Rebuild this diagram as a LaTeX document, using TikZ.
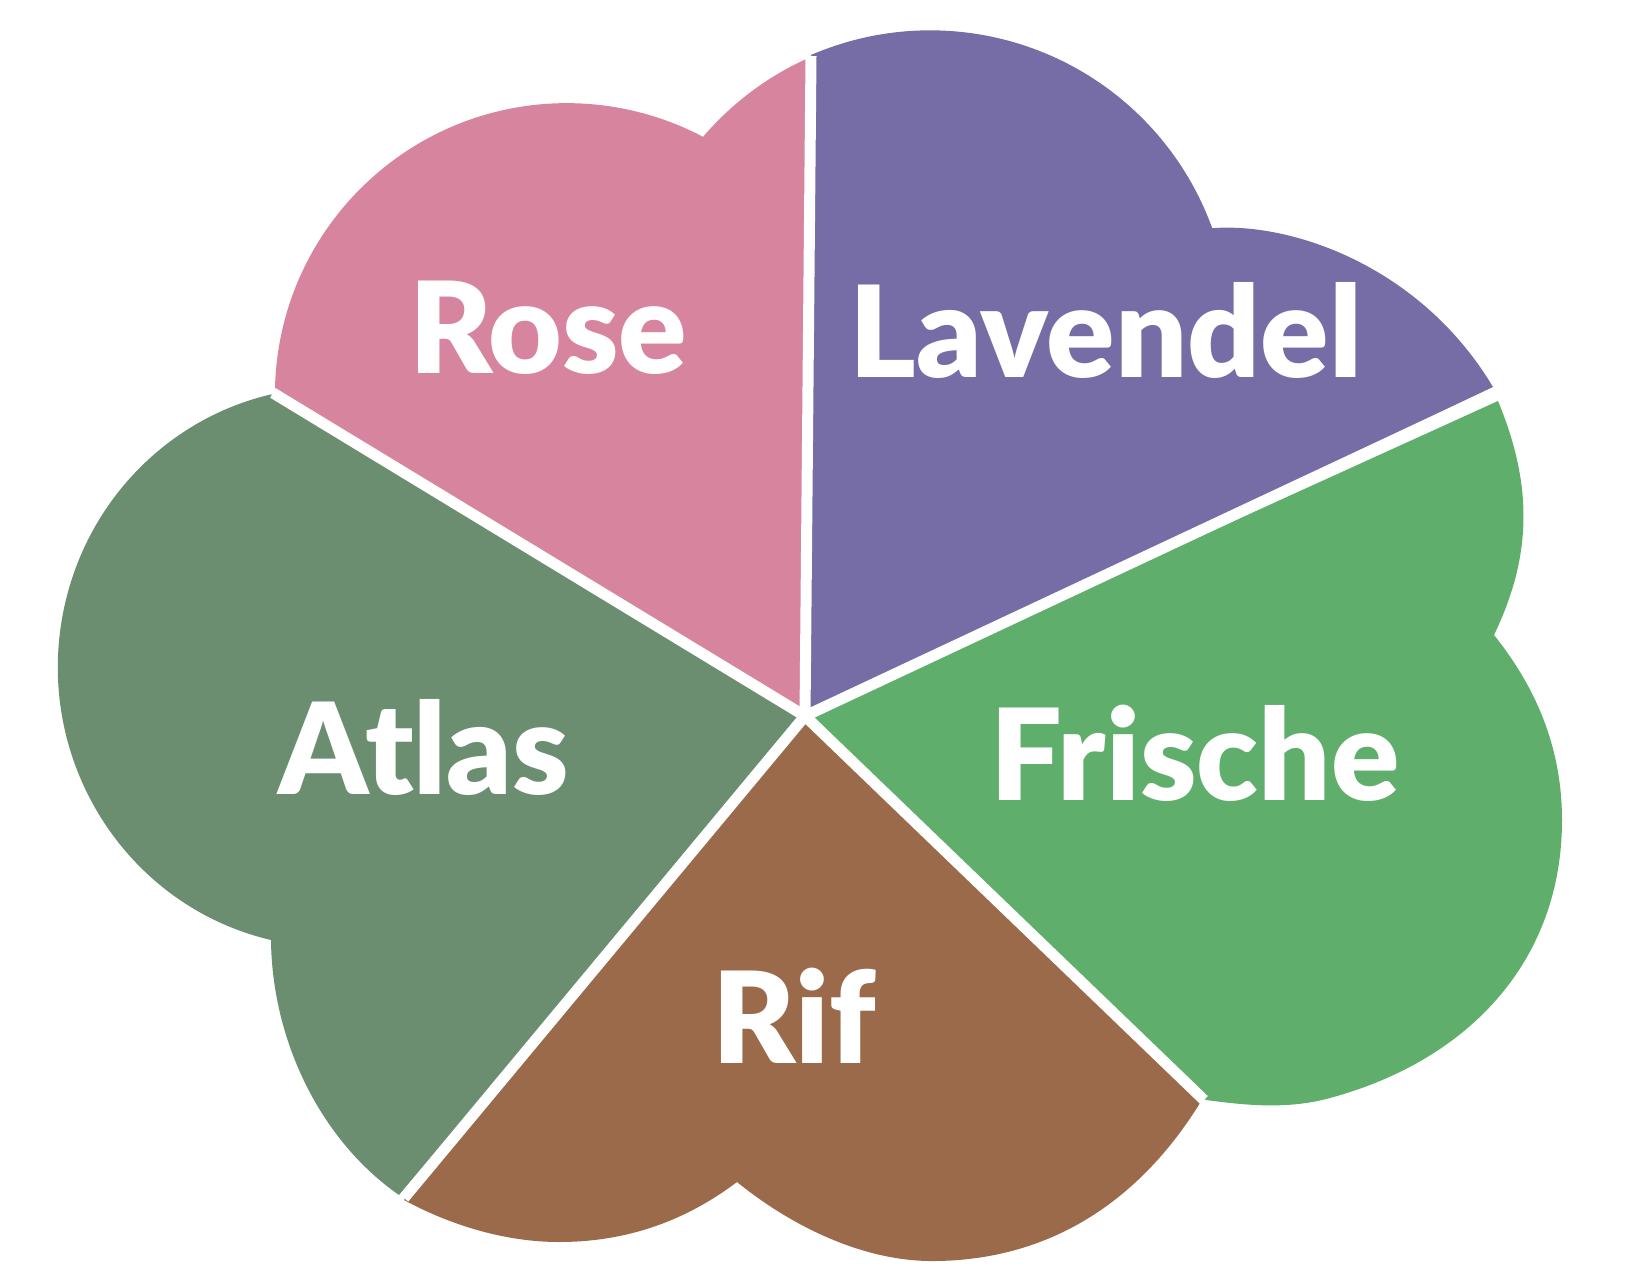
\documentclass[tikz,border=0pt]{standalone}
\usepackage{fontspec}
\setmainfont{Lato}
\newfontfamily\petalfont{Lato Black}
\usepackage{tikz}
\usetikzlibrary{positioning}
\definecolor{rosefill}{RGB}{215,133,158}
\definecolor{lavfill}{RGB}{118,108,166}
\definecolor{frischefill}{RGB}{96,174,108}
\definecolor{riffill}{RGB}{154,106,74}
\definecolor{atlasfill}{RGB}{107,142,112}

\begin{document}
\begin{tikzpicture}
	[x=1pt,y=-1pt,
	sep/.style={draw=white,line width=11pt},
	petal/.style={text=white,font=\fontsize{127}{127}\selectfont\petalfont,anchor=base,inner sep=0pt}]
	\useasboundingbox (0,0) rectangle (1650,1275);
	\coordinate (c) at (805,716);
	\coordinate (s1) at (811,56);
	\coordinate (s2) at (1496,392);
	\coordinate (s3) at (1204,1100);
	\coordinate (s4) at (404,1198);
	\coordinate (s5) at (273,393);
	% sectors
	\fill[lavfill] (c) -- (811,55) arc[start angle=246.6,end angle=340.1,radius=300]
		.. controls (1290,222) and (1420,265) .. (1493,387) -- cycle;
	\fill[frischefill] (c) -- (1498,401) .. controls (1535,490) and (1530,560) .. (1494,635)
		.. controls (1530,680) and (1562,740) .. (1562,820)
		.. controls (1562,960) and (1470,1060) .. (1330,1098)
		.. controls (1290,1109) and (1250,1106) .. (1206,1100) -- cycle;
	\fill[riffill] (c) -- (1200,1103) .. controls (1140,1200) and (1050,1262) .. (929,1261)
		.. controls (860,1260) and (790,1225) .. (737,1182)
		.. controls (680,1225) and (620,1242) .. (559,1242)
		.. controls (505,1242) and (450,1225) .. (404,1200) -- cycle;
	\fill[atlasfill] (c) -- (399,1195) .. controls (320,1140) and (272,1040) .. (271,940)
		arc[start angle=103,end angle=257,x radius=275,y radius=280] -- cycle;
	\fill[rosefill] (c) -- (275,388) arc[start angle=181.4,end angle=297.8,radius=292]
		arc[start angle=220.5,end angle=245.5,radius=300] -- cycle;
	% white separators
	\foreach \s in {s1,s2,s3,s4,s5}
		\draw[sep] (c) -- (\s);
	% labels
	\node[petal] (rose) at (548,373) {Rose};
	\node[petal] (lavendel) at (1106,377) {Lavendel};
	\node[petal] (frische) at (1195,800) {Frische};
	\node[petal] (atlas) at (424,794) {Atlas};
	\node[petal] (rif) at (794,1063) {Rif};
\end{tikzpicture}
\end{document}
